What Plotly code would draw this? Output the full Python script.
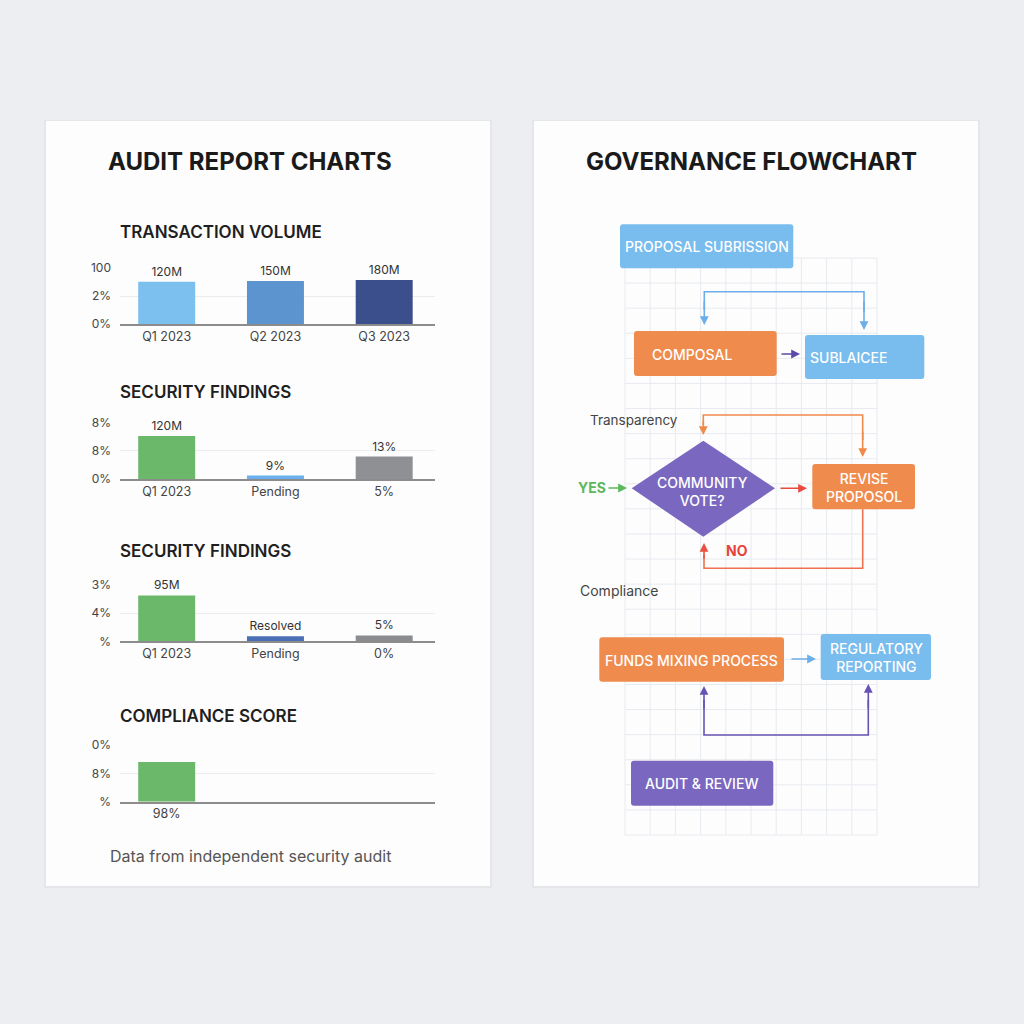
import plotly.graph_objects as go

W = H = 1024
def px(x): return x / W
def py(y): return 1 - y / H

FONT = "Inter"

# ---------------- DATA ----------------
tv_labels = ["Q1 2023", "Q2 2023", "Q3 2023"]
tv_values = [1.51, 1.54, 1.57]
tv_text = ["120M", "150M", "180M"]
tv_ticks = ["0%", "2%", "100"]

sf1_labels = ["Q1 2023", "Pending", "5%"]
sf1_values = [1.52, 0.12, 0.79]
sf1_text = ["120M", "9%", "13%"]
sf1_ticks = ["0%", "8%", "8%"]

sf2_labels = ["Q1 2023", "Pending", "0%"]
sf2_values = [1.63, 0.18, 0.21]
sf2_text = ["95M", "Resolved", "5%"]
sf2_ticks = ["%", "4%", "3%"]

cs_labels = ["98%", "", ""]
cs_values = [1.40]
cs_text = [""]
cs_ticks = ["%", "8%", "0%"]

chart_titles = ["TRANSACTION VOLUME", "SECURITY FINDINGS", "SECURITY FINDINGS", "COMPLIANCE SCORE"]

flow_nodes = ["PROPOSAL SUBRISSION", "COMPOSAL", "SUBLAICEE", "COMMUNITY<br>VOTE?",
              "REVISE<br>PROPOSOL", "FUNDS MIXING PROCESS", "REGULATORY<br>REPORTING", "AUDIT & REVIEW"]
flow_labels = ["Transparency", "Compliance", "YES", "NO"]

# ---------------- STYLE / LAYOUT ----------------
BG = "#eceef1"
BLUE = "#79bcee"
ORANGE = "#f08b4e"
PURPLE = "#7a67bf"
GREEN = "#6cb86a"

charts = [
    dict(labels=tv_labels, values=tv_values, text=tv_text, ticks=tv_ticks,
         colors=["#7cc0f0", "#5c94d0", "#3b4f8c"], title_y=232, base=324, top=268),
    dict(labels=sf1_labels, values=sf1_values, text=sf1_text, ticks=sf1_ticks,
         colors=[GREEN, "#6ab0ee", "#8e9094"], title_y=392, base=479, top=422.3),
    dict(labels=sf2_labels, values=sf2_values, text=sf2_text, ticks=sf2_ticks,
         colors=[GREEN, "#4a6fb5", "#8a8c90"], title_y=551, base=641.3, top=585),
    dict(labels=cs_labels, values=cs_values, text=cs_text, ticks=cs_ticks,
         colors=[GREEN], title_y=716, base=801.7, top=745),
]

fig = go.Figure()
layout_axes = {}
annotations = []
shapes = []

PLOT_L, PLOT_R = 120, 435
C0, STEP = 166.7, 108.75
xr = [-(C0 - PLOT_L) / STEP, 2 + (PLOT_R - (C0 + 2 * STEP)) / STEP]

for i, c in enumerate(charts):
    sfx = "" if i == 0 else str(i + 1)
    n = len(c["values"])
    fig.add_trace(go.Bar(
        x=list(range(n)), y=c["values"], width=0.524,
        marker=dict(color=c["colors"], line=dict(width=0)),
        text=c["text"], textposition="outside", cliponaxis=False, constraintext="none",
        textfont=dict(size=12, color="#333333", family=FONT),
        xaxis="x" + sfx, yaxis="y" + sfx, hoverinfo="skip",
    ))
    layout_axes["xaxis" + sfx] = dict(
        domain=[px(PLOT_L), px(PLOT_R)], anchor="y" + sfx, range=xr, automargin=False,
        tickvals=[0, 1, 2], ticktext=c["labels"], showgrid=False, zeroline=False,
        showline=True, linecolor="#8c8c8c", linewidth=1.5, ticks="",
        tickfont=dict(size=12.5, color="#444444", family=FONT), fixedrange=True,
    )
    layout_axes["yaxis" + sfx] = dict(
        domain=[py(c["base"]), py(c["top"])], anchor="x" + sfx, range=[0, 2], automargin=False,
        tickvals=[0, 1, 2], ticktext=c["ticks"], showgrid=True, gridcolor="#ececec",
        gridwidth=1, zeroline=False, showline=False, ticks="", ticklabelstandoff=8,
        tickfont=dict(size=12, color="#444444", family=FONT), fixedrange=True,
    )
    annotations.append(dict(
        text=chart_titles[i], x=px(118), y=py(c["title_y"]), xref="paper", yref="paper",
        xanchor="left", yanchor="middle", showarrow=False,
        font=dict(size=17, color="#1f1f1f", family=FONT, weight=600),
    ))

# ---------------- PANELS ----------------
for (x0, x1) in [(46, 490), (534, 978)]:
    shapes.append(dict(type="rect", xref="paper", yref="paper", layer="below",
                       x0=px(x0 - 2), x1=px(x1 + 2), y0=py(888), y1=py(120),
                       fillcolor="rgba(0,0,0,0.03)", line=dict(width=0)))
    shapes.append(dict(type="rect", xref="paper", yref="paper", layer="below",
                       x0=px(x0), x1=px(x1), y0=py(886), y1=py(121),
                       fillcolor="#fdfdfd", line=dict(width=0)))

def txt(t, x, y, size, color, weight=400, xanchor="center"):
    annotations.append(dict(text=t, x=px(x), y=py(y), xref="paper", yref="paper",
                            xanchor=xanchor, yanchor="middle", showarrow=False,
                            font=dict(size=size, color=color, family=FONT, weight=weight)))

txt("AUDIT REPORT CHARTS", 250, 161, 24, "#1a1a1a", 700)
txt("GOVERNANCE FLOWCHART", 751, 161, 24, "#1a1a1a", 700)
txt("Data from independent security audit", 108, 856, 16, "#555555", 400, "left")

# ---------------- FLOWCHART GRID ----------------
GRID = "#e7eaef"
gx0, gx1, gy0, gy1 = 625, 877, 258, 835
for k in range(11):
    x = gx0 + k * (gx1 - gx0) / 10
    shapes.append(dict(type="line", xref="paper", yref="paper", layer="above",
                       x0=px(x), x1=px(x), y0=py(gy0), y1=py(gy1), line=dict(color=GRID, width=1)))
for k in range(24):
    y = gy0 + k * (gy1 - gy0) / 23
    shapes.append(dict(type="line", xref="paper", yref="paper", layer="above",
                       x0=px(gx0), x1=px(gx1), y0=py(y), y1=py(y), line=dict(color=GRID, width=1)))

def rbox(x0, y0, x1, y1, color, r=3):
    p = (f"M {px(x0 + r)},{py(y0)} L {px(x1 - r)},{py(y0)} "
         f"Q {px(x1)},{py(y0)} {px(x1)},{py(y0 + r)} L {px(x1)},{py(y1 - r)} "
         f"Q {px(x1)},{py(y1)} {px(x1 - r)},{py(y1)} L {px(x0 + r)},{py(y1)} "
         f"Q {px(x0)},{py(y1)} {px(x0)},{py(y1 - r)} L {px(x0)},{py(y0 + r)} "
         f"Q {px(x0)},{py(y0)} {px(x0 + r)},{py(y0)} Z")
    shapes.append(dict(type="path", path=p, xref="paper", yref="paper", layer="above",
                       fillcolor=color, line=dict(width=0)))

def poly(points, color, width=1.6):
    p = "M " + " L ".join(f"{px(x)},{py(y)}" for x, y in points)
    shapes.append(dict(type="path", path=p, xref="paper", yref="paper", layer="above",
                       line=dict(color=color, width=width)))

def arrow(tx, ty, hx, hy, color):
    annotations.append(dict(x=px(hx), y=py(hy), xref="paper", yref="paper",
                            ax=tx - hx, ay=ty - hy, axref="pixel", ayref="pixel",
                            showarrow=True, arrowhead=2, arrowsize=1.1, arrowwidth=1.6,
                            arrowcolor=color, text=""))

# boxes
rbox(620, 224.3, 793.3, 268.3, BLUE)
rbox(634, 331, 776.7, 376, ORANGE)
rbox(805, 335, 924.3, 379, BLUE)
rbox(812.3, 464, 915, 509.3, ORANGE)
rbox(599.3, 637.3, 784, 681.7, ORANGE)
rbox(820.7, 634, 931, 680, BLUE)
rbox(631, 760.7, 773.3, 805.7, PURPLE)
# diamond
shapes.append(dict(type="path", xref="paper", yref="paper", layer="above",
                   path=(f"M {px(631.7)},{py(488.3)} L {px(703.3)},{py(440.7)} "
                         f"L {px(775)},{py(488.3)} L {px(703.3)},{py(536.7)} Z"),
                   fillcolor=PURPLE, line=dict(width=0)))

# connectors
LB = "#6caee9"
poly([(704.3, 310), (704.3, 291.7), (864, 291.7), (864, 312)], LB)
arrow(704.3, 300, 704.3, 325, LB)
arrow(864, 300, 864, 330, LB)
arrow(780, 354, 800, 354, "#5b4aa8")
OR2 = "#f08a4a"
poly([(703.3, 425), (703.3, 415), (862.7, 415), (862.7, 440)], OR2)
arrow(703.3, 420, 703.3, 435, OR2)
arrow(862.7, 430, 862.7, 457, OR2)
arrow(607, 488, 627, 488, "#5cb85c")
arrow(779, 488.3, 807, 488.3, "#e84a3f")
poly([(862.7, 509.3), (862.7, 568.3), (704, 568.3), (704, 555)], "#ef7150")
arrow(704, 560, 704, 543, "#e8503f")
arrow(790, 659, 816, 659, LB)
PU = "#6753b3"
poly([(704, 700), (704, 735), (868.3, 735), (868.3, 700)], PU)
arrow(704, 710, 704, 686, PU)
arrow(868.3, 710, 868.3, 684, PU)

# node labels
W_ = "#ffffff"
txt(flow_nodes[0], 706.5, 246.5, 14, W_, 500)
txt(flow_nodes[1], 692, 354, 14, W_, 500)
txt(flow_nodes[2], 848, 357, 14, W_, 500)
txt(flow_nodes[3], 702, 491.5, 14, W_, 500)
txt(flow_nodes[4], 863.5, 487.5, 14, W_, 500)
txt(flow_nodes[5], 691.7, 660, 14, W_, 500)
txt(flow_nodes[6], 876, 657.5, 14, W_, 500)
txt(flow_nodes[7], 701.7, 783.3, 14, W_, 500)

txt(flow_labels[0], 588, 420, 13.5, "#444444", 400, "left")
txt(flow_labels[1], 578, 590, 14, "#444444", 400, "left")
txt(flow_labels[2], 591.7, 487.5, 14, "#5cb85c", 700)
txt(flow_labels[3], 736.7, 550.7, 14, "#e8433a", 700)

fig.update_layout(
    width=W, height=H, margin=dict(l=0, r=0, t=0, b=0, pad=0, autoexpand=False),
    paper_bgcolor=BG, plot_bgcolor="rgba(0,0,0,0)", showlegend=False,
    font=dict(family=FONT), bargap=0.3,
    annotations=annotations, shapes=shapes, **layout_axes,
)
fig.write_html("out.html", config={"displayModeBar": False},
               post_script="document.body.style.margin='0';document.body.style.overflow='hidden';")
